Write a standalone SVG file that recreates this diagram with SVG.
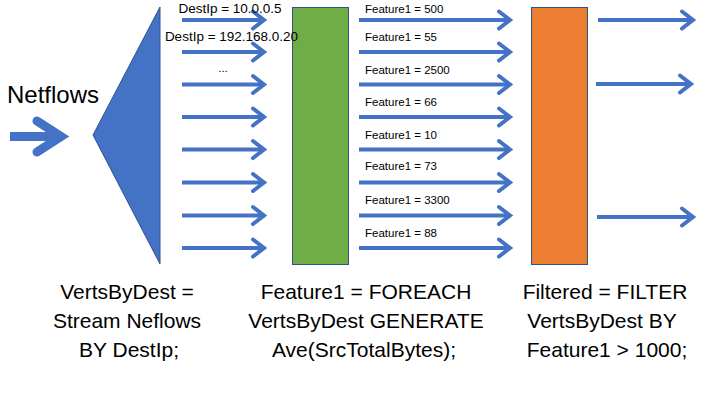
<svg xmlns="http://www.w3.org/2000/svg" width="720" height="405" viewBox="0 0 720 405">
<style>
.t{font-family:"Liberation Sans",Arial,sans-serif;fill:#000}
.s{font-size:11.5px}
.d{font-size:13.5px}
.b{font-size:21px;text-anchor:middle}
.a{fill:none;stroke:#4472C4;stroke-width:4;stroke-linecap:round;stroke-linejoin:miter}
.sh{fill:none;stroke:#4472C4;stroke-width:4;stroke-linecap:butt}
</style>
<rect width="720" height="405" fill="#fff"/>
<g id="netflows-label"><text class="t" x="7" y="103" font-size="24">Netflows</text></g>
<g id="splitter"><polygon points="93,135 160,7 160,264" fill="#4472C4" stroke="#2F528F" stroke-width="1"/></g>
<g id="foreach"><rect x="292.5" y="7.5" width="56" height="257" fill="#70AD47" stroke="#2F528F" stroke-width="1"/></g>
<g id="filter"><rect x="531.5" y="7.5" width="56" height="257" fill="#ED7D31" stroke="#2F528F" stroke-width="1"/></g>
<g id="connectors">
<path d="M10,136.5H62" fill="none" stroke="#4472C4" stroke-width="9"/>
<path d="M37,121L61,136.5L37,152" fill="none" stroke="#4472C4" stroke-width="9" stroke-linecap="round"/>
<g id="split-arrows">
<path class="sh" d="M182,20H263 M182,52H263 M182,84.5H263 M182,117H263 M182,149.5H263 M182,182.5H263 M182,215.5H263 M182,248H263"/>
<path class="a" d="M253,11.5L264,20L253,28.5 M253,43.5L264,52L253,60.5 M253,76L264,84.5L253,93 M253,108.5L264,117L253,125.5 M253,141L264,149.5L253,158 M253,174L264,182.5L253,191 M253,207L264,215.5L253,224 M253,239.5L264,248L253,256.5"/>
</g>
<g id="feature-arrows">
<path class="sh" d="M359,20H509 M359,52H509 M359,84.5H509 M359,117H509 M359,149.5H509 M359,182.5H509 M359,215.5H509 M359,248H509"/>
<path class="a" d="M499,11.5L510,20L499,28.5 M499,43.5L510,52L499,60.5 M499,76L510,84.5L499,93 M499,108.5L510,117L499,125.5 M499,141L510,149.5L499,158 M499,174L510,182.5L499,191 M499,207L510,215.5L499,224 M499,239.5L510,248L499,256.5"/>
</g>
<g id="filter-arrows">
<path class="sh" d="M598,20H692 M596,84H690 M597,217H692"/>
<path class="a" d="M682,11.5L693,20L682,28.5 M680,75.5L691,84L680,92.5 M682,208.5L693,217L682,225.5"/>
</g>
</g>
<g id="dest-labels">
<text class="t d" x="230" y="13" text-anchor="middle">DestIp = 10.0.0.5</text>
<text class="t d" x="231.5" y="41" text-anchor="middle">DestIp = 192.168.0.20</text>
<text class="t s" x="223" y="72" text-anchor="middle">...</text>
</g>
<g id="feature-labels">
<text class="t s" x="365" y="13">Feature1 = 500</text>
<text class="t s" x="365" y="41">Feature1 = 55</text>
<text class="t s" x="365" y="74">Feature1 = 2500</text>
<text class="t s" x="365" y="106">Feature1 = 66</text>
<text class="t s" x="365" y="139">Feature1 = 10</text>
<text class="t s" x="365" y="170">Feature1 = 73</text>
<text class="t s" x="365" y="204">Feature1 = 3300</text>
<text class="t s" x="365" y="237">Feature1 = 88</text>
</g>
<g id="caption-split">
<text class="t b" x="127" y="299">VertsByDest =</text>
<text class="t b" x="127" y="328">Stream Neflows</text>
<text class="t b" x="129" y="357">BY DestIp;</text>
</g>
<g id="caption-foreach">
<text class="t b" x="366" y="299">Feature1 = FOREACH</text>
<text class="t b" x="366" y="328">VertsByDest GENERATE</text>
<text class="t b" x="364" y="357">Ave(SrcTotalBytes);</text>
</g>
<g id="caption-filter">
<text class="t b" x="605" y="299">Filtered = FILTER</text>
<text class="t b" x="602" y="328">VertsByDest BY</text>
<text class="t b" x="607" y="357">Feature1 &gt; 1000;</text>
</g>
</svg>
